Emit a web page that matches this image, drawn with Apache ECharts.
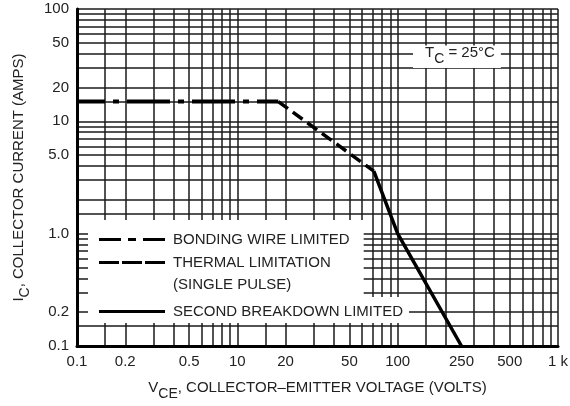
<!DOCTYPE html>
<html>
<head>
<meta charset="utf-8">
<script src="https://cdn.jsdelivr.net/npm/echarts@6/dist/echarts.min.js"></script>
<style>
  html, body { margin: 0; padding: 0; background: #fff; }
  #chart { width: 570px; height: 406px; }
</style>
</head>
<body>
<div id="chart"></div>
<script>
// safe operating area, log-log axes
var bondV = [1, 18];
var bondI = [15, 15];
var thermalV = [18, 71];
var thermalI = [15, 3.6];
var breakV = [71, 100, 250];
var breakI = [3.6, 1.0, 0.1];

var seriesNames = ['BONDING WIRE LIMITED', 'THERMAL LIMITATION\n(SINGLE PULSE)', 'SECOND BREAKDOWN LIMITED'];

// labels as printed on the sheet
var xTickValues = [1, 2, 5, 10, 20, 50, 100, 250, 500, 1000];
var xTickLabels = ['0.1', '0.2', '0.5', '10', '20', '50', '100', '250', '500', '1 k'];
var yTickValues = [0.1, 0.2, 1, 5, 10, 20, 50, 100];
var yTickLabels = ['0.1', '0.2', '1.0', '5.0', '10', '20', '50', '100'];

// grid lines
var xGridValues = [1, 1.5, 2, 3, 4, 5, 6, 7, 8, 9,
    10, 15, 20, 30, 40, 50, 60, 70, 80, 90,
    100, 150, 200, 300, 400, 500, 600, 700, 800, 900, 1000];
var yGridValues = [0.1, 0.15, 0.2, 0.3, 0.4, 0.5, 0.6, 0.7, 0.8, 0.9,
    1, 1.5, 2, 3, 4, 5, 6, 7, 8, 9,
    10, 15, 20, 30, 40, 50, 60, 70, 80, 90, 100];

var FONT = '"Liberation Sans", Arial, sans-serif';
var TXT = '#222';

var pairs = function (xs, ys) {
    return xs.map(function (x, i) { return [x, ys[i]]; });
};
var labelOf = function (values, labels) {
    return function (v) {
        for (var i = 0; i < values.length; i++) {
            if (Math.abs(v - values[i]) < values[i] * 1e-6) return labels[i];
        }
        return '';
    };
};

var richText = {
    n: { fontSize: 15, fontWeight: 'normal', color: TXT, fontFamily: FONT },
    s: { fontSize: 14, fontWeight: 'normal', color: TXT, fontFamily: FONT, padding: [12, 0, 0, 0] }
};
var legendText = {
    a: { fontSize: 15, lineHeight: 22, color: TXT, fontFamily: FONT }
};

var chart = echarts.init(document.getElementById('chart'));
chart.setOption({
    animation: false,
    backgroundColor: '#fff',
    grid: { left: 77, right: 12, top: 9, bottom: 60, outerBoundsMode: 'none' },
    title: {
        text: '{n|T}{s|C}{n| = 25°C}',
        left: 413, top: 40,
        padding: [0, 6, 2, 12],
        backgroundColor: '#fff',
        textStyle: { fontWeight: 'normal', rich: richText }
    },
    legend: [{
        left: 88, top: 220,
        orient: 'vertical',
        itemWidth: 66, itemHeight: 3, itemGap: 8,
        padding: [12, 14, 11, 11],
        backgroundColor: '#fff',
        selectedMode: false,
        itemStyle: { borderWidth: 0 },
        textStyle: { padding: [0, 0, 0, 3], rich: legendText },
        formatter: function (name) { return '{a|' + name + '}'; },
        data: [
            { name: seriesNames[0], icon: 'path://M0,0H22V3H0ZM29,0H37V3H29ZM44,0H66V3H44Z' },
            { name: seriesNames[1], icon: 'path://M0,0H20V3H0ZM23,0H43V3H23ZM46,0H66V3H46Z',
              textStyle: { padding: [1, 0, -21, 3] } }
        ]
    }, {
        left: 88, top: 297,
        orient: 'vertical',
        itemWidth: 66, itemHeight: 3,
        padding: [7, 6, 4, 11],
        backgroundColor: '#fff',
        selectedMode: false,
        itemStyle: { borderWidth: 0 },
        textStyle: { padding: [0, 0, 0, 3], rich: legendText },
        formatter: function (name) { return '{a|' + name + '}'; },
        data: [{ name: seriesNames[2], icon: 'path://M0,0H66V3H0Z' }]
    }],
    xAxis: {
        type: 'log', min: 1, max: 1000,
        name: '{n|V}{s|CE}{n|, COLLECTOR\u2013EMITTER VOLTAGE (VOLTS)}',
        nameLocation: 'middle', nameGap: 29,
        nameTextStyle: { rich: richText },
        axisLine: { onZero: false, lineStyle: { color: '#000', width: 3 } },
        axisTick: { show: false, customValues: xGridValues },
        axisLabel: {
            customValues: xTickValues,
            formatter: labelOf(xTickValues, xTickLabels),
            fontSize: 15, color: TXT, fontFamily: FONT, margin: 8
        },
        splitLine: { show: true, lineStyle: { color: '#1a1a1a', width: 1.5 } }
    },
    yAxis: {
        type: 'log', min: 0.1, max: 100,
        name: '{n|I}{s|C}{n|, COLLECTOR CURRENT (AMPS)}',
        nameLocation: 'middle', nameGap: 45,
        nameTextStyle: { rich: richText },
        axisLine: { onZero: false, lineStyle: { color: '#000', width: 3 } },
        axisTick: { show: false, customValues: yGridValues },
        axisLabel: {
            customValues: yTickValues,
            formatter: labelOf(yTickValues, yTickLabels),
            fontSize: 15, color: TXT, fontFamily: FONT, margin: 8
        },
        splitLine: { show: true, lineStyle: { color: '#1a1a1a', width: 1.5 } }
    },
    series: [{
        name: seriesNames[0], type: 'line', color: '#000',
        data: pairs(bondV, bondI), symbol: 'none', silent: true,
        lineStyle: { width: 4, type: [43, 8, 6, 8], dashOffset: 15, cap: 'butt' }
    }, {
        name: seriesNames[1], type: 'line', color: '#000',
        data: pairs(thermalV, thermalI), symbol: 'none', silent: true,
        lineStyle: { width: 3.5, type: [12, 6], cap: 'butt' }
    }, {
        name: seriesNames[2], type: 'line', color: '#000',
        data: pairs(breakV, breakI), symbol: 'none', silent: true,
        lineStyle: { width: 3.5 }
    }]
});
</script>
</body>
</html>
